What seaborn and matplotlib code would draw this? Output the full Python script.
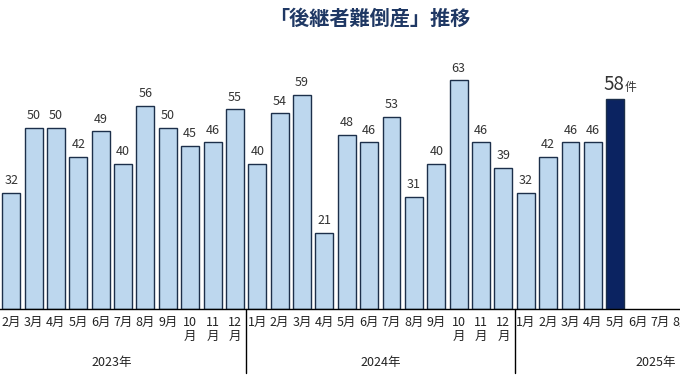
import pandas as pd
import matplotlib.pyplot as plt
import seaborn as sns

# data
months_2023 = ['2月', '3月', '4月', '5月', '6月', '7月', '8月', '9月', '10\n月', '11\n月', '12\n月']
months_2024 = ['1月', '2月', '3月', '4月', '5月', '6月', '7月', '8月', '9月', '10\n月', '11\n月', '12\n月']
months_2025 = ['1月', '2月', '3月', '4月', '5月', '6月', '7月', '8月']
counts_2023 = [32, 50, 50, 42, 49, 40, 56, 50, 45, 46, 55]
counts_2024 = [40, 54, 59, 21, 48, 46, 53, 31, 40, 63, 46, 39]
counts_2025 = [32, 42, 46, 46, 58, None, None, None]
years = ['2023年', '2024年', '2025年']

labels = months_2023 + months_2024 + months_2025
counts = counts_2023 + counts_2024 + counts_2025
keys = [f'{y}-{i}' for y, ms in zip([2023, 2024, 2025], [months_2023, months_2024, months_2025])
        for i in range(len(ms))]

df = pd.DataFrame({'key': keys, 'count': counts, 'label': labels})
df['latest'] = 'past'
df.loc[df['count'].last_valid_index(), 'latest'] = 'latest'

sns.set_theme(style='white')
plt.rcParams['font.family'] = ['Noto Sans CJK JP', 'DejaVu Sans']

fig = plt.figure(figsize=(6.8, 3.82), dpi=100)
ax = fig.add_axes([0, 0.191, 1.02, 0.665])

sns.barplot(data=df, x='key', y='count', order=keys, hue='latest',
            palette={'past': '#bdd7ee', 'latest': '#0b2361'}, saturation=1,
            dodge=False, width=0.8, edgecolor='#1c2f4a', linewidth=1.0,
            legend=False, ax=ax)

ax.set_xlim(-0.5, len(keys) - 0.5)
ax.set_ylim(0, 70)
ax.set_xticks(range(len(keys)))
ax.set_xticklabels(labels, fontsize=9, color='#222222', linespacing=1.05, va='top')
ax.tick_params(axis='x', length=0, pad=5)
ax.set_yticks([])
ax.set_xlabel('')
ax.set_ylabel('')
for s in ['top', 'right', 'left']:
    ax.spines[s].set_visible(False)
ax.spines['bottom'].set_color('black')
ax.spines['bottom'].set_linewidth(1.0)

# value labels
last = df['count'].last_valid_index()
for i, v in enumerate(counts):
    if v is None or pd.isna(v):
        continue
    if i == last:
        ax.text(i - 0.05, v + 1.0, f'{int(v)}', ha='center', va='bottom',
                fontsize=13.5, color='#333333')
        ax.text(i + 0.68, v + 1.3, '件', ha='center', va='bottom',
                fontsize=8.5, color='#333333')
    else:
        ax.text(i, v + 1.5, f'{int(v)}', ha='center', va='bottom',
                fontsize=9, color='#333333')

# year separators and labels
xt = ax.get_xaxis_transform()
n23, n24 = len(months_2023), len(months_2024)
for xb in [n23 - 0.5, n23 + n24 - 0.5]:
    ax.plot([xb, xb], [0, -0.25], color='black', lw=1, transform=xt, clip_on=False)
for xp, yr in zip([4.5, n23 + 5.5, n23 + n24 + 5.8], years):
    ax.text(xp, -0.21, yr, transform=xt, ha='center', va='center',
            fontsize=9, color='#222222')

fig.text(0.544, 0.953, '「後継者難倒産」推移', ha='center', va='center',
         fontsize=14.5, fontweight='bold', color='#1f3864')

fig.savefig('out.png', dpi=100)
